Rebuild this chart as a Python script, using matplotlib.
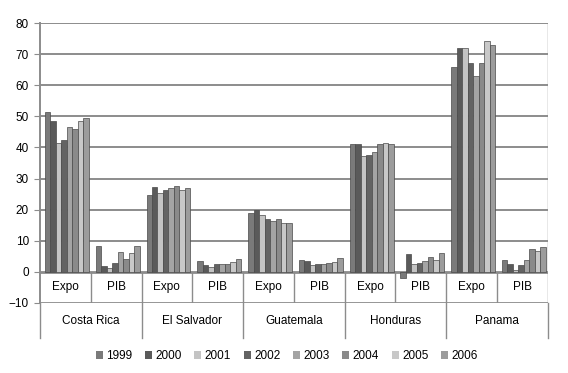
import numpy as np
import matplotlib.pyplot as plt
from matplotlib.lines import Line2D
from matplotlib.patches import Patch

plt.rcParams['font.family'] = ['Liberation Sans', 'DejaVu Sans']

countries = ['Costa Rica', 'El Salvador', 'Guatemala', 'Honduras', 'Panama']
groups = ['Expo', 'PIB']
years = ['1999', '2000', '2001', '2002', '2003', '2004', '2005', '2006']

# one list per (country, group), values per year 1999..2006
cr_expo = [51.5, 48.5, 41.5, 42.5, 46.5, 46.0, 48.5, 49.5]
cr_pib = [8.2, 1.8, 1.2, 2.9, 6.4, 4.1, 5.9, 8.2]
sv_expo = [24.8, 27.3, 25.5, 26.3, 27.1, 27.7, 26.4, 27.1]
sv_pib = [3.4, 2.1, 1.4, 2.5, 2.5, 2.5, 3.2, 4.1]
gt_expo = [19.0, 19.8, 18.2, 16.9, 16.4, 16.9, 15.6, 15.6]
gt_pib = [3.8, 3.4, 2.1, 2.4, 2.4, 2.7, 3.2, 4.5]
hn_expo = [41.0, 41.2, 37.3, 37.6, 38.6, 41.0, 41.5, 41.0]
hn_pib = [-2.0, 5.7, 2.4, 2.9, 3.4, 4.8, 3.8, 5.9]
pa_expo = [66.0, 72.0, 72.0, 67.1, 63.0, 67.3, 74.3, 73.0]
pa_pib = [3.7, 2.6, 0.5, 2.3, 3.9, 7.2, 6.7, 8.0]

series = [cr_expo, cr_pib, sv_expo, sv_pib, gt_expo, gt_pib,
          hn_expo, hn_pib, pa_expo, pa_pib]
colors = ['#7a7a7a', '#5a5a5a', '#c4c4c4', '#636363',
          '#a4a4a4', '#8a8a8a', '#c8c8c8', '#9c9c9c']

data = np.array(series)  # 10 groups x 8 years

fig = plt.figure(figsize=(5.68, 3.73), dpi=100)
ax = fig.add_axes([0.0704, 0.188, 0.894, 0.750])

n_groups, n_years = data.shape
bw = 0.108
x0 = np.arange(n_groups) + 0.53 - bw * n_years / 2 + bw / 2

# gridlines first so bars sit on top
for v in range(-10, 81, 10):
    lw = 2.0 if v in (-10, 0) else 1.4
    ax.axhline(v, color='#8c8c8c', lw=lw, zorder=1)

for j in range(n_years):
    ax.bar(x0 + j * bw, data[:, j], width=bw, color=colors[j],
           edgecolor='#4a4a4a', linewidth=0.5, zorder=3, label=years[j])

ax.set_xlim(0, n_groups)
ax.set_ylim(-10, 80)
ax.set_yticks(range(-10, 81, 10))
ax.set_xticks([])
ax.tick_params(axis='y', length=4, color='#8c8c8c', labelsize=8.5, pad=4)
for s in ['top', 'right', 'bottom']:
    ax.spines[s].set_visible(False)
ax.spines['left'].set_color('#8c8c8c')
ax.spines['left'].set_linewidth(1.4)

# inner labels (Expo / PIB) between 0 and -10
for g in range(n_groups):
    ax.text(g + 0.5, -5, groups[g % 2], ha='center', va='center',
            fontsize=8.5, zorder=4)
    if g > 0:
        ax.plot([g, g], [-10, 0], color='#8c8c8c', lw=1.0, zorder=2)
ax.plot([n_groups, n_groups], [-10, 80], color='#8c8c8c', lw=1.0, zorder=2)

# country labels under the axes
trans = ax.get_xaxis_transform()
for c, name in enumerate(countries):
    ax.text(2 * c + 1, -0.065, name, transform=trans, ha='center',
            va='center', fontsize=8.5, clip_on=False)
for c in range(len(countries) + 1):
    ax.add_line(Line2D([2 * c, 2 * c], [0, -0.125], transform=trans,
                       color='#8c8c8c', lw=1.0, clip_on=False))

handles = [Patch(facecolor=colors[j], edgecolor='none') for j in range(n_years)]
fig.legend(handles, years, loc='center', bbox_to_anchor=(0.505, 0.045),
           ncol=8, frameon=False, fontsize=8.5, handlelength=0.6,
           handleheight=0.6, handletextpad=0.3, columnspacing=1.05)

fig.savefig('out.png', dpi=100)
